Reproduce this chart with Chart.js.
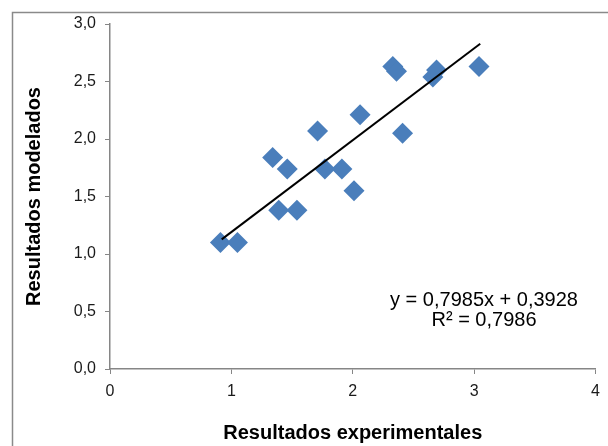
<!DOCTYPE html>
<html>
<head>
<meta charset="utf-8">
<script src="https://cdn.jsdelivr.net/npm/chart.js@4/dist/chart.umd.min.js"></script>
<style>
  html, body { margin: 0; padding: 0; background: #ffffff; }
  #wrap { width: 608px; height: 446px; }
</style>
</head>
<body>
<div id="wrap"><canvas id="c" width="608" height="446"></canvas></div>
<script>
// Experimental (x) vs modelled (y) results
const experimental = [0.91, 1.05, 1.34, 1.46, 1.39, 1.54, 1.71, 1.77, 1.91, 2.01, 2.06, 2.33, 2.36, 2.41, 2.66, 2.69, 3.04];
const modelled     = [1.10, 1.10, 1.84, 1.74, 1.38, 1.38, 2.07, 1.74, 1.74, 1.55, 2.21, 2.63, 2.59, 2.05, 2.54, 2.60, 2.63];

// Linear trendline as reported on the chart
const trendSlope = 0.7985;
const trendIntercept = 0.3928;
const trendXRange = [0.92, 3.05];
const equationLines = ["y = 0,7985x + 0,3928", "R\u00B2 = 0,7986"];

const xTitle = "Resultados experimentales";
const yTitle = "Resultados modelados";
const xTicks = [0, 1, 2, 3, 4];
const yTicks = [0, 0.5, 1, 1.5, 2, 2.5, 3];

const FONT = '"Liberation Sans", Arial, sans-serif';
const AXIS_GRAY = '#868686';

const points = experimental.map((x, i) => ({ x: x, y: modelled[i] }));
const trendPoints = trendXRange.map(x => ({ x: x, y: trendSlope * x + trendIntercept }));

const framePlugin = {
  id: 'frame',
  beforeDraw(chart) {
    const ctx = chart.ctx;
    ctx.save();
    ctx.strokeStyle = '#8a8a8a';
    ctx.lineWidth = 1.5;
    ctx.beginPath();
    ctx.moveTo(12.5, 446);
    ctx.lineTo(12.5, 12.5);
    ctx.lineTo(608, 12.5);
    ctx.stroke();
    ctx.restore();
  }
};

const equationPlugin = {
  id: 'equation',
  afterDraw(chart) {
    const ctx = chart.ctx;
    ctx.save();
    ctx.font = '20px ' + FONT;
    ctx.fillStyle = '#000000';
    ctx.textAlign = 'center';
    ctx.textBaseline = 'alphabetic';
    ctx.fillText(equationLines[0], 484, 306);
    ctx.fillText(equationLines[1], 484, 326);
    ctx.restore();
  }
};

new Chart(document.getElementById('c'), {
  type: 'scatter',
  data: {
    datasets: [
      {
        label: 'Tendencia',
        data: trendPoints,
        showLine: true,
        borderColor: '#000000',
        borderWidth: 2,
        pointRadius: 0,
        order: 0
      },
      {
        label: 'Datos',
        data: points,
        pointStyle: 'rectRot',
        pointRadius: 10.5,
        pointHoverRadius: 10.5,
        backgroundColor: '#4a7ebb',
        borderWidth: 0,
        order: 1
      }
    ]
  },
  options: {
    responsive: false,
    devicePixelRatio: 1,
    animation: false,
    layout: { padding: { left: 0, top: 24, right: 11, bottom: 0 } },
    plugins: {
      legend: { display: false },
      tooltip: { enabled: false }
    },
    scales: {
      x: {
        type: 'linear',
        min: 0,
        max: 4,
        afterFit(scale) { scale.height = 77; },
        afterBuildTicks(scale) { scale.ticks = xTicks.map(v => ({ value: v })); },
        ticks: {
          color: '#1a1a1a',
          font: { family: FONT, size: 16 },
          padding: 8,
          maxRotation: 0,
          callback: v => String(v)
        },
        grid: {
          display: true,
          drawOnChartArea: false,
          drawTicks: true,
          tickLength: 5,
          color: AXIS_GRAY
        },
        border: { display: true, color: AXIS_GRAY, width: 1.5 },
        title: {
          display: true,
          text: xTitle,
          color: '#000000',
          font: { family: FONT, size: 20, weight: 'bold' },
          padding: { top: 0, bottom: 1 }
        }
      },
      y: {
        type: 'linear',
        min: 0,
        max: 3,
        afterFit(scale) { scale.width = 110; },
        afterBuildTicks(scale) { scale.ticks = yTicks.map(v => ({ value: v })); },
        ticks: {
          color: '#1a1a1a',
          font: { family: FONT, size: 16 },
          padding: 9,
          callback: v => v.toFixed(1).replace('.', ',')
        },
        grid: {
          display: true,
          drawOnChartArea: false,
          drawTicks: true,
          tickLength: 5,
          color: AXIS_GRAY
        },
        border: { display: true, color: AXIS_GRAY, width: 1.5 },
        title: {
          display: true,
          text: yTitle,
          color: '#000000',
          font: { family: FONT, size: 20, weight: 'bold' },
          padding: { top: 22.7, bottom: 0 }
        }
      }
    }
  },
  plugins: [framePlugin, equationPlugin]
});
</script>
</body>
</html>
